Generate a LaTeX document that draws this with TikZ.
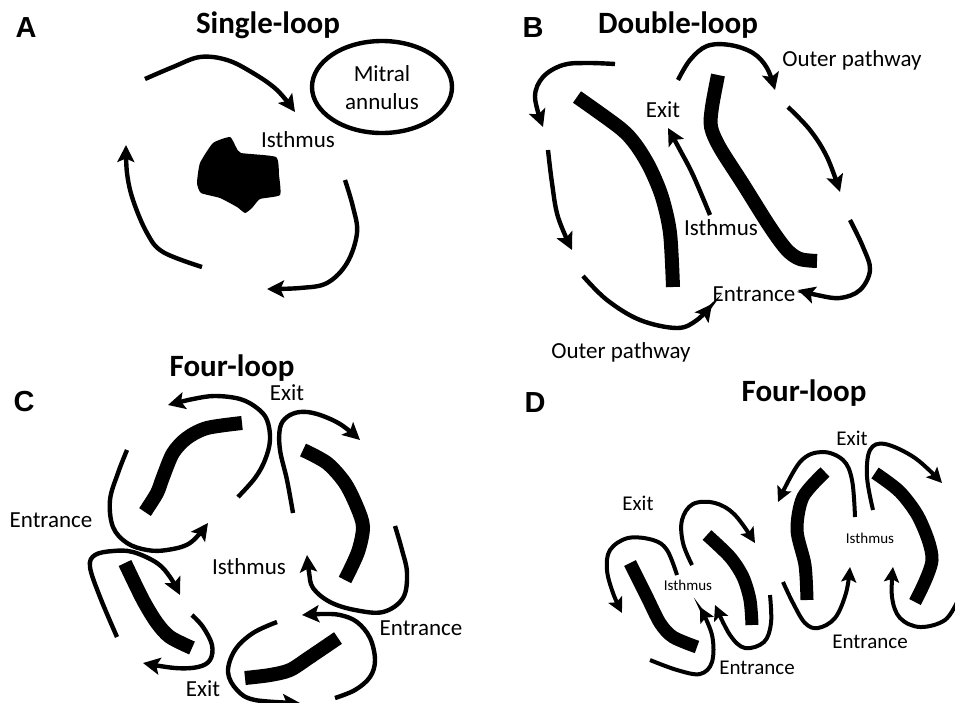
\documentclass[tikz,border=0pt]{standalone}
\usepackage{fontspec}
\setmainfont{Carlito}
\newfontfamily\panelfont{Liberation Sans}
\usetikzlibrary{arrows.meta}
\tikzset{
  arr/.style={line width=4.4pt, line cap=butt, -{Stealth[length=17pt,width=17pt,inset=3.5pt]}},
  arrd/.style={line width=4pt, line cap=butt, -{Stealth[length=15pt,width=15pt,inset=3pt]}},
  bar/.style={line width=14pt, line cap=butt},
  bard/.style={line width=13pt, line cap=butt},
  lbl/.style={inner sep=0pt, font=\fontsize{23}{27}\selectfont},
  lbld/.style={inner sep=0pt, font=\fontsize{21}{25}\selectfont},
  lbls/.style={inner sep=0pt, font=\fontsize{15}{18}\selectfont},
  ttl/.style={inner sep=0pt, font=\fontsize{31}{35}\selectfont\bfseries},
  pnl/.style={inner sep=0pt, font=\fontsize{29}{33}\selectfont\panelfont\bfseries},
}
\begin{document}
\begin{tikzpicture}[x=1pt,y=-1pt]
\useasboundingbox (0,0) rectangle (955,702);

% ---------------- Panel A ----------------
\node[pnl] (lA) at (26,28) {A};
\node[ttl] (tA) at (268,25) {Single-loop};
\draw[line width=4.4pt] (382,87) ellipse [x radius=70, y radius=46];
\node[lbl, align=center] (mitral) at (382,88) {Mitral\\[1pt]annulus};
\node[lbl] (isA) at (298,140) {Isthmus};
\fill plot[smooth cycle, tension=0.3] coordinates {(230,137) (213,143) (200,163) (197,183) (201,193) (220,198) (237,207) (245,213) (252,208) (260,199) (280,195) (279,175) (276,157) (241,153) (236,147)};
\draw[arr] plot[smooth, tension=0.6] coordinates {(145,79) (173,67) (200,57) (227,60) (253,73) (277,90) (295,112)};
\draw[arr] plot[smooth, tension=0.6] coordinates {(345,180) (353,207) (357,233) (347,263) (327,283) (300,288) (267,289)};
\draw[arr] plot[smooth, tension=0.6] coordinates {(202,267) (163,252) (147,233) (133,200) (127,173) (126,145)};

% ---------------- Panel B ----------------
\node[pnl] (lB) at (533,28) {B};
\node[ttl] (tB) at (678,25) {Double-loop};
\draw[bar] plot[smooth, tension=0.5] coordinates {(577,97) (620,128) (636,145) (650,168) (662,197) (670,233) (673,287)};
\draw[bar] plot[smooth, tension=0.5] coordinates {(718,75) (712,107) (711,127) (720,148) (743,184) (770,227) (787,250) (800,259) (817,261)};
\draw[arr] plot[smooth, tension=0.6] coordinates {(615,64) (587,63) (563,65) (543,77) (535,97) (543,127)};
\draw[arr] plot[smooth, tension=0.6] coordinates {(548,150) (552,183) (558,217) (572,250)};
\draw[arr] plot[smooth, tension=0.6] coordinates {(583,276) (607,300) (640,320) (677,328) (697,320) (712,304)};
\draw[arr] plot[smooth, tension=0.6] coordinates {(710,215) (693,175) (680,150) (668,128)};
\draw[arr] plot[smooth, tension=0.6] coordinates {(678,80) (690,60) (707,46) (730,45) (753,53) (767,68) (775,90)};
\draw[arr] plot[smooth, tension=0.6] coordinates {(788,107) (810,130) (827,157) (840,192)};
\draw[arr] plot[smooth, tension=0.6] coordinates {(850,220) (863,247) (870,270) (860,290) (840,298) (817,295) (798,290)};
\node[lbl] (exB) at (663,110) {Exit};
\node[lbl] (isB) at (721,228) {Isthmus};
\node[lbl] (opB1) at (852,60) {Outer pathway};
\node[lbl] (opB2) at (621,352) {Outer pathway};
\node[lbl] (enB) at (754,294) {Entrance};

% ---------------- Panel C ----------------
\node[pnl] (lC) at (24,402) {C};
\node[ttl] (tC) at (232,368) {Four-loop};
\node[lbl] (exC1) at (287,393) {Exit};
\node[lbl] (enC1) at (51,520) {Entrance};
\node[lbl] (isC) at (249,567) {Isthmus};
\node[lbl] (enC2) at (421,628) {Entrance};
\node[lbl] (exC2) at (203,689) {Exit};
% bars
\draw[bar] plot[smooth, tension=0.5] coordinates {(242,423) (207,428) (187,438) (173,453) (163,477) (157,493) (145,512)};
\draw[bar] plot[smooth, tension=0.5] coordinates {(303,450) (327,463) (345,483) (357,507) (363,527) (358,552) (345,580)};
\draw[bar] plot[smooth, tension=0.5] coordinates {(125,563) (143,600) (157,623) (170,637) (192,648)};
\draw[bar] plot[smooth, tension=0.5] coordinates {(245,678) (270,675) (290,670) (310,657) (338,638)};
% arrows
\draw[arr] plot[smooth, tension=0.6] coordinates {(238,497) (255,478) (265,460) (270,440) (267,420) (257,408) (240,399) (215,396) (193,399) (168,405)};
\draw[arr] plot[smooth, tension=0.6] coordinates {(127,450) (118,473) (110,500) (113,527) (127,543) (147,550) (167,550) (190,543) (208,523)};
\draw[arr] plot[smooth, tension=0.6] coordinates {(293,513) (287,480) (280,450) (280,428) (287,417) (300,412) (317,414) (340,424) (360,440)};
\draw[arr] plot[smooth, tension=0.6] coordinates {(395,526) (402,550) (407,573) (403,598) (383,612) (355,610) (330,602) (313,588) (309,572) (307,555)};
\draw[arr] plot[smooth, tension=0.6] coordinates {(117,637) (100,597) (90,567) (95,555) (113,551) (133,552) (157,563) (170,577) (180,595)};
\draw[arr] plot[smooth, tension=0.6] coordinates {(192,615) (203,627) (212,645) (210,660) (198,667) (175,668) (143,663)};
\draw[arr] plot[smooth, tension=0.6] coordinates {(277,622) (253,633) (235,650) (228,672) (237,690) (255,700) (300,703)};
\draw[arr] plot[smooth, tension=0.6] coordinates {(335,698) (355,690) (370,677) (375,660) (370,638) (357,622) (340,615) (322,614) (302,615)};

% ---------------- Panel D ----------------
\node[pnl] (lD) at (535,403) {D};
\node[ttl] (tD) at (804,393) {Four-loop};
\node[lbld] (exD1) at (852,438) {Exit};
\node[lbld] (exD2) at (638,503) {Exit};
\node[lbls] (isD1) at (688,585) {Isthmus};
\node[lbls] (isD2) at (870,538) {Isthmus};
\node[lbld] (enD1) at (757,668) {Entrance};
\node[lbld] (enD2) at (870,642) {Entrance};
% bars
\draw[bard] plot[smooth, tension=0.5] coordinates {(630,563) (647,597) (660,623) (673,637) (697,647)};
\draw[bard] plot[smooth, tension=0.5] coordinates {(707,535) (730,557) (743,577) (750,600) (752,625)};
\draw[bard] plot[smooth, tension=0.5] coordinates {(825,472) (803,497) (797,530) (805,565) (807,600)};
\draw[bard] plot[smooth, tension=0.5] coordinates {(875,473) (900,492) (920,520) (932,560) (915,602)};
% arrows
\draw[arrd] plot[smooth, tension=0.6] coordinates {(677,575) (667,550) (653,540) (628,538) (610,550) (607,570) (613,593) (622,613)};
\draw[arrd] plot[smooth, tension=0.6] coordinates {(650,660) (677,670) (700,674) (712,662) (712,635) (700,607)};
\draw[arrd] plot[smooth, tension=0.6] coordinates {(692,565) (683,543) (682,520) (693,504) (715,503) (735,515) (755,543)};
\draw[arrd] plot[smooth, tension=0.6] coordinates {(770,595) (771,623) (764,642) (745,648) (730,635) (715,605)};
\draw[arrd] plot[smooth, tension=0.6] coordinates {(855,517) (852,480) (843,460) (822,452) (800,462) (778,502)};
\draw[arrd] plot[smooth, tension=0.6] coordinates {(783,582) (793,603) (805,623) (818,628) (835,618) (846,593) (850,567)};
\draw[arrd] plot[smooth, tension=0.6] coordinates {(873,510) (867,477) (870,450) (885,444) (915,458) (942,483)};
\draw[arrd] plot[smooth, tension=0.6] coordinates {(958,600) (945,620) (920,627) (900,618) (892,597) (893,567)};
\end{tikzpicture}
\end{document}
